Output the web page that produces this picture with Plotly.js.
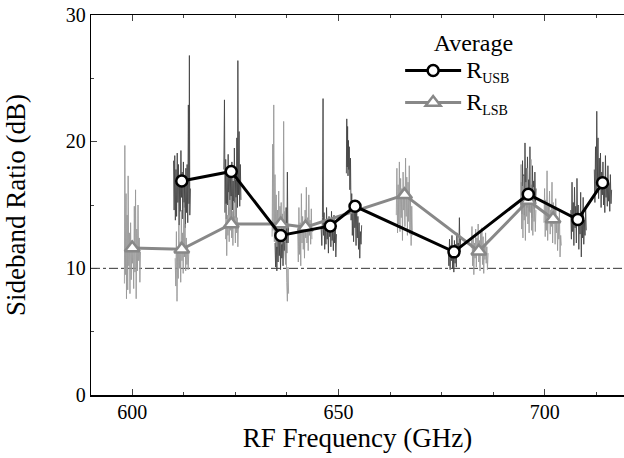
<!DOCTYPE html>
<html>
<head>
<meta charset="utf-8">
<script src="https://cdn.plot.ly/plotly-3.0.1.min.js"></script>
<style>
html,body{margin:0;padding:0;background:#fff;overflow:hidden;}
#preload{position:absolute;left:0;top:0;z-index:0;font-family:'Liberation Serif';font-size:20px;color:#000;}
#chart{position:relative;z-index:1;width:624px;height:458px;background:#fff;}
#chart text{font-family:'Liberation Serif' !important;}
</style>
</head>
<body>
<div id="preload">Average RF Frequency Sideband Ratio USB LSB 0123456789</div>
<div id="chart"></div>
<script>
// Averaged sideband ratios (dB) at each LO setting (GHz)
const usbAvgFreq = [612, 624, 636, 648, 654, 678, 696, 708, 714];
const usbAvgRatio = [16.9, 17.65, 12.6, 13.35, 14.9, 11.3, 15.85, 13.85, 16.75];
const lsbAvgFreq = [600, 612, 624, 636, 642, 666, 684, 696, 702];
const lsbAvgRatio = [11.6, 11.5, 13.5, 13.5, 13.25, 15.8, 11.35, 15.35, 13.9];

// Measured USB sideband ratio traces (dB) around each LO setting
const usb612F = [610.0,610.15,610.3,610.45,610.6,610.75,610.9,611.05,611.2,611.35,611.5,611.65,611.8,611.95,612.1,612.25,612.4,612.55,612.7,612.85,613.0,613.15,613.3,613.45,613.6,613.75,613.85,613.95,614.1];
const usb612R = [18.5,14.6,18.9,13.8,17.8,14.1,19.1,15.2,18.2,13.4,17.1,14.5,19.3,15.6,17.6,13.9,18.4,14.8,16.5,13.2,17.9,14.4,18.2,13.6,22.9,15.1,26.8,14.2,16.3];
const usb624F = [622.2,622.35,622.5,622.65,622.8,622.95,623.1,623.25,623.4,623.55,623.7,623.85,624.0,624.15,624.3,624.45,624.6,624.75,624.9,625.05,625.2,625.35,625.5,625.6,625.75,625.9,626.05,626.2,626.35];
const usb624R = [17.8,23.3,14.4,18.6,13.9,17.5,15.0,19.0,14.2,18.1,15.4,17.2,13.6,18.4,14.6,16.9,13.8,19.5,15.2,17.0,14.0,20.3,14.8,26.4,15.8,20.8,14.9,18.2,15.4];
const usb636F = [634.6,634.75,634.9,635.05,635.2,635.35,635.5,635.65,635.8,635.95,636.1,636.25,636.4,636.55,636.7,636.85,637.0,637.15,637.3,637.45,637.6,637.75,637.9];
const usb636R = [12.0,10.1,13.2,9.8,12.6,10.5,13.8,11.0,12.3,9.9,13.1,10.8,12.7,10.2,13.5,11.4,12.1,10.6,14.8,11.2,17.6,12.0,13.3];
const usb648F = [645.8,645.95,646.1,646.25,646.35,646.5,646.65,646.8,646.95,647.1,647.25,647.4,647.55,647.7,647.85,648.0,648.15,648.3,648.45,648.6,648.75,648.9,649.05,649.2,649.35,649.5];
const usb648R = [13.1,11.8,14.0,23.4,12.6,14.4,11.5,13.6,11.9,14.8,12.3,13.2,11.2,14.1,12.5,13.5,11.7,14.5,12.2,13.0,11.4,14.2,12.0,13.6,10.9,12.7];
const usb654F = [651.9,652.0,652.1,652.2,652.3,652.4,652.5,652.6,652.75,652.9,653.05,653.2,653.35,653.5,653.65,653.8,653.95,654.1,654.25,654.4,654.55,654.7,654.85,655.0,655.15,655.3,655.45,655.6];
const usb654R = [17.5,21.8,18.0,21.2,17.3,20.1,17.8,19.6,16.2,18.7,13.8,15.9,12.6,14.7,12.1,15.3,13.2,14.4,11.8,15.0,12.4,14.1,11.5,13.6,10.8,12.9,11.9,13.4];
const usb678F = [676.6,676.75,676.9,677.05,677.2,677.35,677.5,677.65,677.8,677.95,678.1,678.25,678.4,678.55,678.7,678.85,679.0,679.15,679.3,679.45,679.6];
const usb678R = [11.6,10.2,12.3,9.9,11.8,10.6,12.6,10.0,11.4,9.7,12.2,10.4,11.9,10.1,12.8,10.9,12.0,11.1,14.0,11.3,12.4];
const usb696F = [694.3,694.45,694.6,694.75,694.9,695.05,695.2,695.35,695.5,695.65,695.8,695.95,696.1,696.25,696.4,696.55,696.7,696.85,697.0,697.15,697.3,697.45,697.6,697.75,697.9];
const usb696R = [16.8,14.3,18.5,15.0,17.4,14.2,19.9,15.6,17.9,14.8,18.8,15.9,17.0,14.5,19.6,15.3,16.6,14.0,18.1,15.4,16.9,14.7,17.6,15.1,16.3];
const usb708F = [706.3,706.45,706.6,706.75,706.9,707.05,707.2,707.35,707.5,707.65,707.8,707.95,708.1,708.25,708.4,708.55,708.7,708.85,709.0,709.15,709.3,709.45,709.6,709.75,709.9,710.05];
const usb708R = [14.6,12.3,16.8,12.9,15.2,11.8,16.4,13.2,14.9,12.0,17.1,13.6,15.0,11.5,14.2,12.7,16.0,10.9,14.4,12.4,15.6,11.9,13.8,12.6,14.9,13.0];
const usb714F = [712.0,712.15,712.3,712.45,712.6,712.75,712.9,713.05,713.2,713.35,713.5,713.65,713.8,713.95,714.1,714.25,714.4,714.55,714.7,714.85,715.0,715.15,715.3,715.45,715.6,715.75,715.9,716.05,716.2];
const usb714R = [17.8,15.2,19.6,16.0,22.4,16.8,20.3,15.5,18.7,16.2,19.1,14.8,17.6,15.8,18.4,15.0,17.2,14.4,18.9,15.6,17.0,14.9,18.1,15.3,16.7,14.5,17.4,15.1,16.2];

// Measured LSB sideband ratio traces (dB) around each LO setting
const lsb600F = [598.1,598.2,598.35,598.5,598.6,598.75,598.9,599.0,599.15,599.3,599.45,599.6,599.75,599.9,600.05,600.2,600.35,600.5,600.65,600.8,600.95,601.1,601.25,601.4,601.55,601.7,601.85,602.0];
const lsb600R = [8.8,19.7,9.5,15.9,7.6,14.2,8.3,17.3,10.2,12.8,8.0,13.6,9.1,12.2,10.4,11.6,8.4,14.9,9.7,16.2,7.6,13.1,9.8,15.0,10.6,12.4,8.9,11.3];
const lsb612F = [610.4,610.55,610.7,610.85,611.0,611.15,611.3,611.45,611.6,611.75,611.9,612.05,612.2,612.35,612.5,612.65,612.8,612.95,613.1,613.25,613.4,613.55,613.7];
const lsb612R = [10.8,8.6,12.9,7.4,11.5,9.2,13.4,10.0,12.1,8.9,14.6,10.6,12.8,9.6,15.2,10.9,13.5,9.8,12.4,10.3,11.8,9.9,11.2];
const lsb624F = [622.6,622.75,622.9,623.05,623.2,623.35,623.5,623.65,623.8,623.95,624.1,624.25,624.4,624.55,624.7,624.85,625.0,625.15,625.3,625.45,625.6,625.75];
const lsb624R = [12.3,15.1,11.0,14.2,12.6,16.0,12.1,14.8,13.0,15.7,12.4,14.5,11.8,15.3,13.2,14.1,12.0,15.6,12.8,14.0,11.7,13.6];
const lsb636F = [633.9,634.05,634.15,634.3,634.45,634.6,634.75,634.9,635.05,635.2,635.35,635.5,635.65,635.8,635.95,636.1,636.25,636.4,636.55,636.7,636.85,637.0,637.15,637.3,637.45,637.6,637.75,637.9];
const lsb636R = [12.5,19.8,13.0,22.9,12.1,17.4,13.4,15.8,11.7,14.6,13.0,16.1,12.3,14.9,13.7,15.2,11.9,14.3,12.8,21.6,12.2,14.5,10.3,12.0,8.9,7.4,10.1,8.0];
const lsb642F = [640.1,640.25,640.4,640.55,640.7,640.85,641.0,641.15,641.3,641.45,641.6,641.75,641.9,642.05,642.2,642.35,642.5,642.65,642.8,642.95,643.1,643.25,643.4,643.55];
const lsb642R = [13.2,10.5,14.8,11.1,13.6,10.2,15.9,12.0,14.1,11.5,13.3,10.8,14.6,12.4,16.4,12.0,14.0,11.4,15.8,12.6,13.8,11.9,14.7,12.3];
const lsb666F = [664.0,664.15,664.3,664.45,664.6,664.75,664.9,665.05,665.2,665.35,665.5,665.65,665.8,665.95,666.1,666.25,666.4,666.55,666.7,666.85,667.0,667.15,667.3,667.45,667.6,667.75,667.9];
const lsb666R = [14.2,17.9,12.8,16.6,13.5,18.4,12.9,17.1,14.0,16.3,12.2,17.6,14.6,16.0,13.3,18.7,14.1,17.2,12.6,16.8,13.7,18.1,12.7,15.4,11.8,14.9,12.6];
const lsb684F = [682.2,682.35,682.5,682.65,682.8,682.95,683.1,683.25,683.4,683.55,683.7,683.85,684.0,684.15,684.3,684.45,684.6,684.75,684.9,685.05,685.2,685.35,685.5,685.65,685.8,685.95,686.1,686.25];
const lsb684R = [11.6,13.3,10.2,12.6,9.5,12.0,10.8,13.1,10.1,12.4,11.2,13.5,10.5,12.2,9.8,12.9,11.0,13.2,10.3,12.5,9.6,11.9,10.7,12.8,10.4,11.7,9.9,11.2];
const lsb696F = [694.1,694.25,694.4,694.55,694.7,694.85,695.0,695.15,695.3,695.45,695.6,695.75,695.9,696.05,696.2,696.35,696.5,696.65,696.8,696.95,697.1,697.25,697.4,697.55,697.7,697.85];
const lsb696R = [14.8,18.2,13.1,16.5,12.4,17.3,13.8,15.9,12.2,16.8,14.1,17.9,13.5,15.7,12.8,16.2,14.4,18.6,13.0,15.5,12.6,16.4,13.7,15.1,12.9,14.6];
const lsb702F = [699.8,699.95,700.1,700.25,700.4,700.55,700.7,700.85,701.0,701.15,701.3,701.45,701.6,701.75,701.9,702.05,702.2,702.35,702.5,702.65,702.8,702.95,703.1,703.25,703.4,703.55,703.7,703.85,704.0];
const lsb702R = [13.6,16.3,12.5,15.4,13.0,17.7,12.2,15.0,13.9,16.1,12.7,14.6,13.3,16.8,12.0,15.2,13.5,14.8,11.9,15.5,12.8,14.1,11.4,13.7,12.3,14.5,10.9,12.6,11.8];

const thresholdDb = 10;
const xTicks = [600, 650, 700];
const yTicks = [0, 10, 20, 30];

function joinClusters(list) {
  const out = [];
  list.forEach((arr, i) => { if (i > 0) out.push(null); arr.forEach(v => out.push(v)); });
  return out;
}
function sized(txt, px) { return '<span style="font-size:' + px + 'px">' + txt + '</span>'; }

const usbRawF = joinClusters([usb612F, usb624F, usb636F, usb648F, usb654F, usb678F, usb696F, usb708F, usb714F]);
const usbRawR = joinClusters([usb612R, usb624R, usb636R, usb648R, usb654R, usb678R, usb696R, usb708R, usb714R]);
const lsbRawF = joinClusters([lsb600F, lsb612F, lsb624F, lsb636F, lsb642F, lsb666F, lsb684F, lsb696F, lsb702F]);
const lsbRawR = joinClusters([lsb600R, lsb612R, lsb624R, lsb636R, lsb642R, lsb666R, lsb684R, lsb696R, lsb702R]);

const SERIF = 'Liberation Serif';

const traces = [
  {x: usbRawF, y: usbRawR, type: 'scatter', mode: 'lines', connectgaps: false,
   line: {color: '#444444', width: 0.9}, showlegend: false, hoverinfo: 'skip'},
  {x: lsbRawF, y: lsbRawR, type: 'scatter', mode: 'lines', connectgaps: false,
   line: {color: '#999999', width: 0.9}, showlegend: false, hoverinfo: 'skip'},
  {x: lsbAvgFreq, y: lsbAvgRatio, type: 'scatter', mode: 'lines+markers',
   name: sized('R', 24) + '<sub>LSB</sub>',
   legendgroup: 'b', legendrank: 2,
   line: {color: '#888888', width: 3},
   marker: {symbol: 'triangle-up', size: 13, color: '#ffffff', line: {color: '#888888', width: 2.5}}},
  {x: usbAvgFreq, y: usbAvgRatio, type: 'scatter', mode: 'lines+markers',
   name: sized('R', 24) + '<sub>USB</sub>',
   legendgroup: 'a', legendrank: 1,
   line: {color: '#000000', width: 3},
   marker: {symbol: 'circle', size: 11, color: '#ffffff', line: {color: '#000000', width: 2.5}}}
];

const layout = {
  width: 624, height: 458,
  margin: {l: 91, r: 0, t: 15, b: 63},
  paper_bgcolor: '#ffffff', plot_bgcolor: '#ffffff',
  font: {family: SERIF, color: '#000000'},
  showlegend: true,
  legend: {
    x: 0.58, y: 0.977, xanchor: 'left', yanchor: 'top',
    bgcolor: 'rgba(0,0,0,0)', borderwidth: 0,
    font: {family: SERIF, size: 20, color: '#000'},
    title: {text: sized('Average', 24), side: 'top right', font: {family: SERIF, size: 21, color: '#000'}},
    traceorder: 'grouped', tracegroupgap: 3, itemwidth: 56
  },
  xaxis: {
    range: [590, 719.2], tickmode: 'array', tickvals: xTicks, ticktext: xTicks.map(v => sized(String(v), 20)),
    ticks: 'inside', ticklen: 6, tickwidth: 1,
    showline: true, linewidth: 1.5, linecolor: '#000', mirror: 'ticks',
    showgrid: false, zeroline: false,
    minor: {dtick: 12.5, tick0: 600, ticks: 'inside', ticklen: 3, tickwidth: 1, showgrid: false},
    tickfont: {family: SERIF, size: 19, color: '#000'},
    title: {text: sized('RF Frequency (GHz)', 27), font: {family: SERIF, size: 26, color: '#000'}, standoff: 0}
  },
  yaxis: {
    range: [0, 30], tickmode: 'array', tickvals: yTicks, ticktext: yTicks.map(v => sized(String(v), 20)),
    ticks: 'inside', ticklen: 6, tickwidth: 1,
    showline: true, linewidth: 1.5, linecolor: '#000', mirror: false,
    showgrid: false, zeroline: false,
    minor: {dtick: 5, tick0: 0, ticks: 'inside', ticklen: 3, tickwidth: 1, showgrid: false},
    tickfont: {family: SERIF, size: 19, color: '#000'},
    title: {text: sized('Sideband Ratio (dB)', 27), font: {family: SERIF, size: 26, color: '#000'}, standoff: 32}
  },
  shapes: [{type: 'line', xref: 'paper', x0: 0, x1: 1, yref: 'y', y0: thresholdDb, y1: thresholdDb,
            line: {color: '#333', width: 1, dash: 'dashdot'}, layer: 'below'}]
};

function draw() {
  Plotly.newPlot('chart', traces, layout, {displayModeBar: false, staticPlot: true});
}
const ready = (document.fonts && document.fonts.load) ? document.fonts.load('20px "Liberation Serif"') : Promise.resolve();
ready.then(() => setTimeout(draw, 50), () => setTimeout(draw, 50));
</script>
</body>
</html>
